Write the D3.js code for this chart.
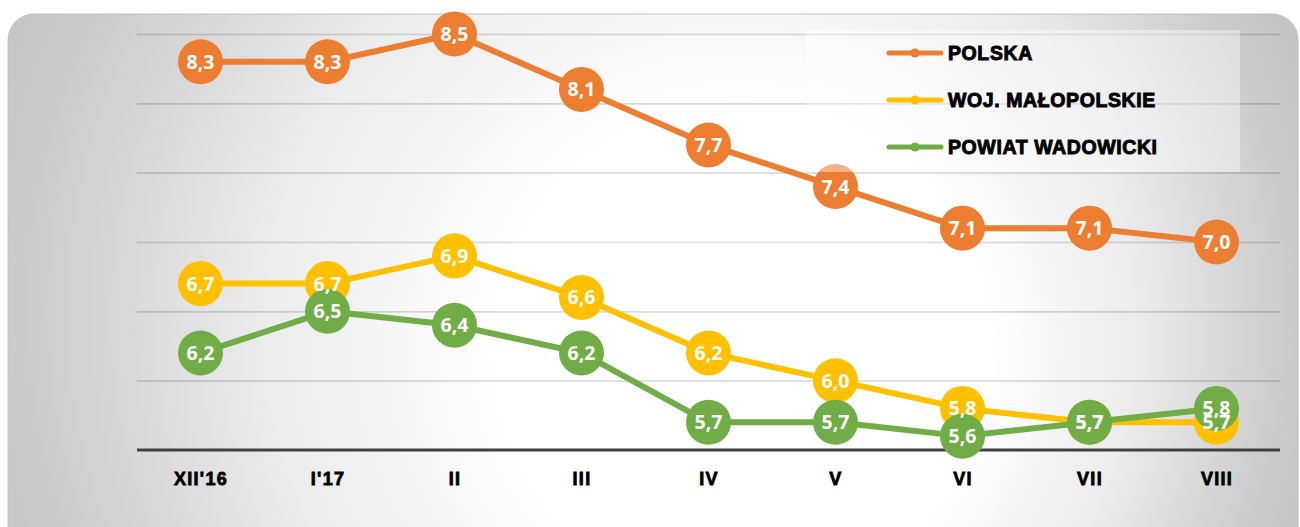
<!DOCTYPE html>
<html>
<head>
<meta charset="utf-8">
<script src="https://cdn.jsdelivr.net/npm/d3@7"></script>
<style>
    body { margin: 0; background: #ffffff; }
    #chart_svg { display: block; }
</style>
</head>
<body>
<svg id="chart_svg" width="1300" height="527"></svg>
<script>
// Chart data
const categories = ["XII'16", "I'17", "II", "III", "IV", "V", "VI", "VII", "VIII"];
const polska = [8.3, 8.3, 8.5, 8.1, 7.7, 7.4, 7.1, 7.1, 7.0];
const malopolskie = [6.7, 6.7, 6.9, 6.6, 6.2, 6.0, 5.8, 5.7, 5.7];
const wadowicki = [6.2, 6.5, 6.4, 6.2, 5.7, 5.7, 5.6, 5.7, 5.8];
const seriesNames = ["POLSKA", "WOJ. MAŁOPOLSKIE", "POWIAT WADOWICKI"];
const seriesColors = ["#ED7D31", "#FFC000", "#70AD47"];
const yTicks = [5.5, 6, 6.5, 7, 7.5, 8, 8.5];

document.addEventListener("DOMContentLoaded", function() {
    const svg = d3.select("#chart_svg");

    const series = [polska, malopolskie, wadowicki].map((values, i) => ({
        name: seriesNames[i],
        color: seriesColors[i],
        values: values.map((v, j) => ({ cat: categories[j], value: v }))
    }));

    // Background gradient (white centre, grey edges)
    const defs = svg.append("defs");
    const grad = defs.append("radialGradient")
        .attr("id", "bg_grad")
        .attr("gradientUnits", "userSpaceOnUse")
        .attr("cx", 640).attr("cy", 300).attr("r", 700)
        .attr("fx", 800).attr("fy", 380);
    grad.append("stop").attr("offset", "0").attr("stop-color", "#ffffff");
    grad.append("stop").attr("offset", "0.35").attr("stop-color", "#ffffff");
    grad.append("stop").attr("offset", "0.62").attr("stop-color", "#ececec");
    grad.append("stop").attr("offset", "0.9").attr("stop-color", "#cbcbcb");
    grad.append("stop").attr("offset", "1").attr("stop-color", "#c4c4c4");

    svg.append("rect")
        .attr("x", 8).attr("y", 14)
        .attr("width", 1290).attr("height", 540)
        .attr("rx", 26)
        .attr("fill", "url(#bg_grad)")
        .attr("stroke", "#c2c2c2")
        .attr("stroke-width", 1);

    // Scales
    const xScale = d3.scalePoint()
        .domain(categories)
        .range([137, 1280])
        .padding(0.5);

    const yScale = d3.scaleLinear()
        .domain([5.5, 8.5])
        .range([450, 34]);

    // Gridlines
    const gridG = svg.append("g")
        .attr("transform", "translate(137, 0)")
        .call(d3.axisLeft(yScale).tickValues(yTicks.slice(1)).tickSize(-(1280 - 137)).tickFormat(""));
    gridG.select(".domain").remove();
    gridG.selectAll(".tick line")
        .attr("stroke", "#000")
        .attr("stroke-opacity", 0.14)
        .attr("stroke-width", 1.6);

    // X axis
    const xAxisG = svg.append("g")
        .attr("transform", `translate(0, ${yScale(5.5)})`)
        .call(d3.axisBottom(xScale).tickSize(0).tickPadding(22));
    xAxisG.select(".domain")
        .attr("d", "M137,0H1280")
        .attr("stroke", "#404040")
        .attr("stroke-width", 3.2);
    xAxisG.selectAll(".tick text")
        .attr("fill", "#000")
        .attr("stroke", "#000")
        .attr("stroke-width", 0.8)
        .style("font-family", "'Liberation Sans', Arial, sans-serif")
        .style("font-weight", "bold")
        .style("font-size", "18px")
        .style("letter-spacing", "1.3px");

    const line = d3.line()
        .x(d => xScale(d.cat))
        .y(d => yScale(d.value));

    // Lines and markers, series by series
    series.forEach(s => {
        const g = svg.append("g");
        g.append("path")
            .datum(s.values)
            .attr("fill", "none")
            .attr("stroke", s.color)
            .attr("stroke-width", 6)
            .attr("stroke-linejoin", "round")
            .attr("d", line);
        g.selectAll("circle")
            .data(s.values)
            .enter()
            .append("circle")
            .attr("cx", d => xScale(d.cat))
            .attr("cy", d => yScale(d.value))
            .attr("r", 22.5)
            .attr("fill", s.color);
    });

    // Data labels on top of everything
    const fmt = v => d3.format(".1f")(v).replace(".", ",");
    series.forEach(s => {
        svg.append("g").selectAll("text")
            .data(s.values)
            .enter()
            .append("text")
            .attr("x", d => xScale(d.cat))
            .attr("y", d => yScale(d.value))
            .attr("dy", "0.36em")
            .attr("text-anchor", "middle")
            .attr("fill", "#ffffff")
            .style("font-family", "'Open Sans', sans-serif")
            .style("font-weight", "bold")
            .style("font-size", "19.5px")
            .text(d => fmt(d.value));
    });

    // Legend (semi transparent box over the plot)
    const legend = svg.append("g");
    legend.append("rect")
        .attr("x", 805).attr("y", 30)
        .attr("width", 435).attr("height", 142)
        .attr("fill", "#ffffff")
        .attr("fill-opacity", 0.4);

    const item = legend.selectAll(".item")
        .data(series)
        .enter()
        .append("g")
        .attr("class", "item")
        .attr("transform", (d, i) => `translate(0, ${53 + i * 47})`);
    item.append("line")
        .attr("x1", 889).attr("x2", 941)
        .attr("stroke", d => d.color)
        .attr("stroke-width", 5)
        .attr("stroke-linecap", "round");
    item.append("circle")
        .attr("cx", 915).attr("r", 4.5)
        .attr("fill", d => d.color);
    item.append("text")
        .attr("x", 948)
        .attr("dy", "0.36em")
        .attr("fill", "#000")
        .attr("stroke", "#000")
        .attr("stroke-width", 0.9)
        .style("font-family", "'Liberation Sans', Arial, sans-serif")
        .style("font-weight", "bold")
        .style("font-size", "19.5px")
        .style("letter-spacing", "0.6px")
        .text(d => d.name);
});
</script>
</body>
</html>
